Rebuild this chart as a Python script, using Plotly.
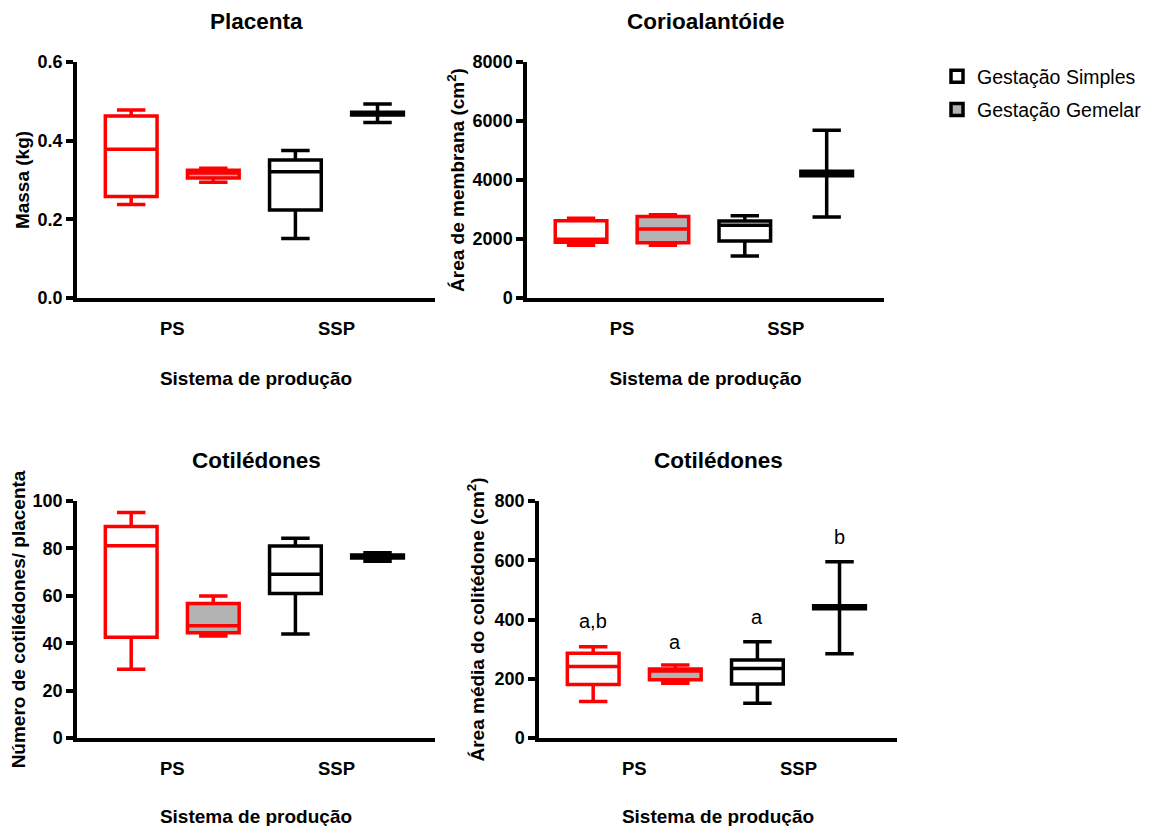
import plotly.graph_objects as go

# ---------------- data ----------------
systems = ["PS", "SSP"]
gestations = ["Gestação Simples", "Gestação Gemelar"]

panel_titles = ["Placenta", "Corioalantóide", "Cotilédones", "Cotilédones"]
y_titles = ["Massa (kg)", "Área de membrana (cm<sup>2</sup>)",
            "Número de cotilédones/ placenta", "Área média do colitédone (cm<sup>2</sup>)"]
x_title = "Sistema de produção"

# order of boxes in every panel: PS-Simples, PS-Gemelar, SSP-Simples, SSP-Gemelar
placenta_min = [0.238, 0.294, 0.151, 0.446]
placenta_q1 = [0.258, 0.305, 0.224, 0.465]
placenta_med = [0.378, 0.318, 0.321, 0.468]
placenta_q3 = [0.463, 0.325, 0.351, 0.472]
placenta_max = [0.478, 0.330, 0.375, 0.493]

corio_min = [1790, 1790, 1420, 2750]
corio_q1 = [1890, 1870, 1930, 4140]
corio_med = [1990, 2336, 2470, 4220]
corio_q3 = [2620, 2760, 2610, 4300]
corio_max = [2700, 2820, 2790, 5690]

cotn_min = [29.0, 43.0, 43.9, 74.6]
cotn_q1 = [42.5, 44.4, 61.0, 75.9]
cotn_med = [81.1, 47.4, 69.1, 76.5]
cotn_q3 = [89.2, 56.8, 81.0, 77.2]
cotn_max = [95.1, 59.9, 84.3, 78.2]

cota_min = [123, 185, 117, 284]
cota_q1 = [181, 197, 182, 436]
cota_med = [241, 226, 235, 441]
cota_q3 = [286, 233, 263, 446]
cota_max = [308, 246, 325, 595]

letters = ["a,b", "a", "a", "b"]
letters_y = [395, 325, 410, 680]

y_ranges = [0.6, 8000, 100, 800]
y_ticks = [[0.0, 0.2, 0.4, 0.6], [0, 2000, 4000, 6000, 8000],
           [0, 20, 40, 60, 80, 100], [0, 200, 400, 600, 800]]
y_formats = [".1f", "d", "d", "d"]

panels = [
    (placenta_min, placenta_q1, placenta_med, placenta_q3, placenta_max),
    (corio_min, corio_q1, corio_med, corio_q3, corio_max),
    (cotn_min, cotn_q1, cotn_med, cotn_q3, cotn_max),
    (cota_min, cota_q1, cota_med, cota_q3, cota_max),
]

# ---------------- styling ----------------
W, H = 1149, 826
OFF = 8  # page body margin: figure starts 8 px right/down in the window
FONT = "Arial, Liberation Sans, sans-serif"
sys_colors = {"PS": "#ff0000", "SSP": "#000000"}
gest_fill = {"Gestação Simples": "#ffffff", "Gestação Gemelar": "#b3b3b3"}
gest_group = {"Gestação Simples": "S", "Gestação Gemelar": "G"}

# window-pixel boxes of each plot area: (left, right, top, bottom)
areas = [(77, 435, 62, 298), (527, 884, 62, 298),
         (77, 435, 501, 738), (539, 897, 501, 738)]
y_standoffs = [4, 4, 8, 6]
x_standoffs = [35, 35, 33, 33]


def fx(px):
    return (px - OFF) / W


def fy(py):
    return 1 - (py - OFF) / H


fig = go.Figure()

for p, stats in enumerate(panels):
    mn, q1, md, q3, mx = stats
    ax = "" if p == 0 else str(p + 1)
    k = 0
    for s in systems:
        for g in gestations:
            fig.add_trace(go.Box(
                x=[s], lowerfence=[mn[k]], q1=[q1[k]], median=[md[k]],
                q3=[q3[k]], upperfence=[mx[k]],
                name=g, legendgroup=g, offsetgroup=gest_group[g],
                showlegend=(p == 0 and s == "SSP"),
                line=dict(color=sys_colors[s], width=3.5),
                fillcolor=gest_fill[g], whiskerwidth=0.55,
                boxpoints=False, hoverinfo="skip",
                xaxis="x" + ax, yaxis="y" + ax,
            ))
            k += 1

layout = dict(
    width=W, height=H, paper_bgcolor="white", plot_bgcolor="white",
    margin=dict(l=0, r=0, t=0, b=0, pad=0, autoexpand=False),
    boxmode="group", boxgap=0, boxgroupgap=0.37,
    font=dict(family=FONT, color="black"),
    legend=dict(x=fx(937), y=fy(57), xanchor="left", yanchor="top",
                font=dict(size=19.5, family=FONT, color="black"),
                bgcolor="rgba(0,0,0,0)", tracegroupgap=5),
    showlegend=True,
)

annotations = []
for p in range(4):
    l, r, t, b = areas[p]
    ax = "" if p == 0 else str(p + 1)
    layout["xaxis" + ax] = dict(
        domain=[fx(l), fx(r)], anchor="y" + ax, type="category",
        categoryorder="array", categoryarray=systems,
        range=[-0.58, 1.6], showline=True, linewidth=3.5, linecolor="black",
        ticks="", ticklabelstandoff=11, showgrid=False, zeroline=False,
        automargin=False,
        tickfont=dict(size=18.5, family=FONT, color="black", weight="bold"),
        title=dict(text=x_title, standoff=x_standoffs[p],
                   font=dict(size=19, family=FONT, color="black", weight="bold")),
    )
    layout["yaxis" + ax] = dict(
        domain=[fy(b), fy(t)], anchor="x" + ax,
        range=[0, y_ranges[p]], tickmode="array", tickvals=y_ticks[p],
        tickformat=y_formats[p], showline=True, linewidth=3.5, linecolor="black",
        ticks="outside", ticklen=7, tickwidth=3.5, tickcolor="black",
        showgrid=False, zeroline=False, automargin=False,
        tickfont=dict(size=18, family=FONT, color="black", weight="bold"),
        title=dict(text=y_titles[p], standoff=y_standoffs[p],
                   font=dict(size=19, family=FONT, color="black", weight="bold")),
    )
    annotations.append(dict(
        text=panel_titles[p], xref="paper", yref="paper",
        x=fx((l + r) / 2), y=fy(t - 40), xanchor="center", yanchor="middle",
        showarrow=False, font=dict(size=22.5, family=FONT, color="black", weight="bold"),
    ))

# significance letters in the last panel
k = 0
for s in systems:
    for j, g in enumerate(gestations):
        annotations.append(dict(
            text=letters[k], xref="x4", yref="y4", x=s, y=letters_y[k],
            xshift=-41 if j == 0 else 41, showarrow=False,
            font=dict(size=20, family=FONT, color="black"),
        ))
        k += 1

layout["annotations"] = annotations
fig.update_layout(**layout)

fig.write_html("out.html")
